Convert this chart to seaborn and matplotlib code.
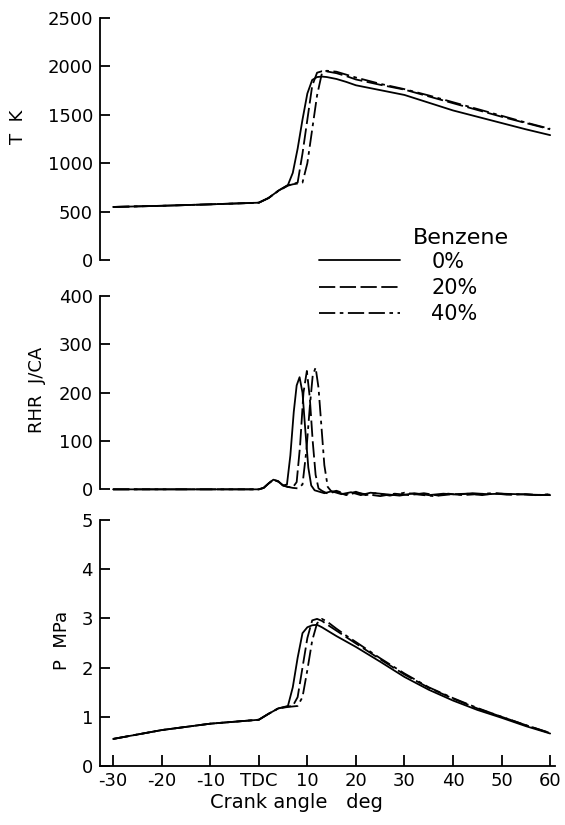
import numpy as np
import pandas as pd
import matplotlib
matplotlib.use("Agg")
import matplotlib.pyplot as plt
import seaborn as sns
from matplotlib.lines import Line2D

# ---------------- data ----------------
series = ["0%", "20%", "40%"]

angle_TP = [-30, -20, -10, 0, 2, 4, 6, 7, 8, 9, 10, 11, 12, 13, 14, 16, 18, 20,
            25, 30, 35, 40, 45, 50, 55, 60]

T_0 = [548, 560, 575, 592, 640, 715, 775, 900, 1150, 1450, 1720, 1860, 1890, 1895,
       1890, 1870, 1840, 1805, 1755, 1705, 1625, 1545, 1480, 1415, 1350, 1290]
T_20 = [548, 560, 575, 592, 640, 715, 772, 785, 800, 1100, 1450, 1800, 1935, 1950,
        1948, 1930, 1900, 1865, 1810, 1760, 1690, 1620, 1550, 1480, 1415, 1350]
T_40 = [548, 560, 575, 592, 640, 712, 768, 782, 790, 800, 1000, 1350, 1700, 1930,
        1955, 1945, 1915, 1885, 1820, 1765, 1700, 1630, 1560, 1490, 1420, 1355]

P_0 = [0.55, 0.73, 0.86, 0.94, 1.06, 1.17, 1.22, 1.60, 2.20, 2.70, 2.82, 2.86, 2.87,
       2.82, 2.76, 2.64, 2.53, 2.42, 2.12, 1.81, 1.55, 1.33, 1.14, 0.98, 0.81, 0.66]
P_20 = [0.55, 0.73, 0.86, 0.94, 1.06, 1.17, 1.21, 1.22, 1.40, 2.00, 2.60, 2.96, 2.99,
        2.95, 2.88, 2.75, 2.62, 2.49, 2.17, 1.86, 1.59, 1.37, 1.17, 1.00, 0.83, 0.67]
P_40 = [0.55, 0.73, 0.86, 0.94, 1.06, 1.17, 1.20, 1.21, 1.22, 1.40, 1.95, 2.55, 2.90,
        2.99, 2.94, 2.79, 2.65, 2.52, 2.19, 1.88, 1.60, 1.38, 1.18, 1.00, 0.83, 0.67]

angle_R0 = [-30, -10, -2, 0, 1, 2, 3, 4, 5, 5.8, 6.5, 7.2, 7.8, 8.4, 9.0, 9.6, 10.2,
            10.8, 11.5, 12.5, 13.5, 15, 17, 19, 21, 23, 26, 29, 32, 35, 38, 41, 44,
            47, 50, 53, 56, 60]
R_0 = [0, 0, 0, 0, 3, 12, 20, 17, 8, 10, 70, 160, 215, 232, 200, 120, 45, 8, -2, -5,
       -8, -4, -10, -6, -12, -7, -10, -13, -8, -12, -9, -11, -8, -10, -9, -10, -11, -12]

angle_R20 = [-30, -10, -2, 0, 1, 2, 3, 4, 5, 6, 7, 7.8, 8.5, 9.2, 9.9, 10.5, 11.1,
             11.7, 12.3, 13, 14, 16, 18, 20, 22, 25, 28, 31, 34, 37, 40, 43, 46, 49,
             52, 55, 58, 60]
R_20 = [0, 0, 0, 0, 3, 12, 20, 16, 8, 5, 4, 15, 90, 200, 245, 190, 100, 30, 2, -3, -8,
        -5, -12, -7, -10, -14, -9, -12, -8, -13, -10, -9, -12, -8, -11, -10, -12, -11]

angle_R40 = [-30, -10, -2, 0, 1, 2, 3, 4, 5, 6, 7, 8, 9, 9.8, 10.5, 11.1, 11.7, 12.3,
             12.9, 13.5, 14.2, 15, 16, 18, 20, 22, 24, 27, 30, 33, 36, 39, 42, 45, 48,
             51, 54, 57, 60]
R_40 = [0, 0, 0, 0, 3, 12, 20, 16, 8, 5, 3, 2, 10, 80, 170, 235, 252, 210, 130, 50, 5,
        -5, -3, -10, -5, -12, -8, -13, -7, -11, -14, -9, -12, -10, -8, -11, -10, -12, -10]

x_ticks = [-30, -20, -10, 0, 10, 20, 30, 40, 50, 60]
x_ticklabels = ["-30", "-20", "-10", "TDC", "10", "20", "30", "40", "50", "60"]
T_ticks = [0, 500, 1000, 1500, 2000, 2500]
R_ticks = [0, 100, 200, 300, 400]
P_ticks = [0, 1, 2, 3, 4, 5]

# ---------------- build long tables ----------------
def long_df(xs, ys, name):
    return pd.DataFrame({"angle": xs, "val": ys, "Benzene": name})

df_T = pd.concat([long_df(angle_TP, T_0, "0%"), long_df(angle_TP, T_20, "20%"),
                  long_df(angle_TP, T_40, "40%")])
df_P = pd.concat([long_df(angle_TP, P_0, "0%"), long_df(angle_TP, P_20, "20%"),
                  long_df(angle_TP, P_40, "40%")])
df_R = pd.concat([long_df(angle_R0, R_0, "0%"), long_df(angle_R20, R_20, "20%"),
                  long_df(angle_R40, R_40, "40%")])

dashes = {"0%": "", "20%": (9, 2.5), "40%": (9, 2.5, 2, 2.5)}

sns.set_style("white")
plt.rcParams["font.family"] = ["DejaVu Sans"]
plt.rcParams["text.color"] = "black"
plt.rcParams["axes.labelcolor"] = "black"
plt.rcParams["xtick.color"] = "black"
plt.rcParams["ytick.color"] = "black"

W, H = 565, 825
fig = plt.figure(figsize=(W / 100, H / 100), dpi=100)

def ax_at(left_px, right_px, y0_px, y1_px):
    return fig.add_axes([left_px / W, 1 - y0_px / H, (right_px - left_px) / W,
                         (y0_px - y1_px) / H])

xlim = (-32.7, 61.0)
ax_T = ax_at(100, 555, 260, 18)
ax_R = ax_at(100, 555, 499, 296)
ax_P = ax_at(100, 555, 766, 520)

lw = 1.3
for ax, df in [(ax_T, df_T), (ax_R, df_R), (ax_P, df_P)]:
    sns.lineplot(data=df, x="angle", y="val", style="Benzene", dashes=dashes,
                 color="black", linewidth=lw, legend=False, ax=ax,
                 estimator=None, sort=True)
    ax.set_xlim(*xlim)
    ax.set_xlabel("")
    ax.set_ylabel("")
    ax.patch.set_alpha(0)
    for s in ["top", "right"]:
        ax.spines[s].set_visible(False)
    ax.spines["left"].set_color("black")
    ax.spines["left"].set_linewidth(1.3)
    ax.tick_params(axis="y", direction="in", length=7, width=1.3, pad=5,
                   labelsize=13, colors="black", left=True)
    for line in ax.get_lines():
        line.set_clip_on(False)

ax_T.set_ylim(0, 2500)
ax_T.set_yticks(T_ticks)
ax_R.set_ylim(-20, 400)
ax_R.set_yticks(R_ticks)
ax_R.spines["left"].set_bounds(0, 400)
ax_P.set_ylim(0, 5)
ax_P.set_yticks(P_ticks)

for ax in (ax_T, ax_R):
    ax.spines["bottom"].set_visible(False)
    ax.set_xticks([])

ax_P.spines["bottom"].set_color("black")
ax_P.spines["bottom"].set_linewidth(1.3)
ax_P.set_xticks(x_ticks)
ax_P.set_xticklabels(x_ticklabels)
ax_P.tick_params(axis="x", direction="in", length=8, width=1.3, pad=4,
                 labelsize=13, colors="black", bottom=True)

fig.text(18 / W, 1 - 127 / H, "T  K", rotation=90, ha="center", va="center",
         fontsize=13, color="black")
fig.text(37 / W, 1 - 390 / H, "RHR  J/CA", rotation=90, ha="center", va="center",
         fontsize=13, color="black")
fig.text(62 / W, 1 - 640 / H, "P  MPa", rotation=90, ha="center", va="center",
         fontsize=13, color="black")
fig.text(296 / W, 1 - 802 / H, "Crank angle   deg", ha="center", va="center",
         fontsize=14, color="black")

# legend title placed as its own text, legend rows below it
fig.text(413 / W, 1 - 238 / H, "Benzene", ha="left", va="center",
         fontsize=16, color="black")
handles = [Line2D([0], [0], color="black", lw=lw, linestyle="-"),
           Line2D([0], [0], color="black", lw=lw, dashes=(9, 2.5)),
           Line2D([0], [0], color="black", lw=lw, dashes=(9, 2.5, 2, 2.5, 9, 2.5))]
leg = fig.legend(handles, series, frameon=False,
                 loc="upper left", bbox_to_anchor=(300 / W, 1 - 233 / H),
                 fontsize=15, handlelength=3.9,
                 handletextpad=1.5, labelspacing=0.3)
for t in leg.get_texts():
    t.set_color("black")

fig.savefig("out.png", dpi=100)
